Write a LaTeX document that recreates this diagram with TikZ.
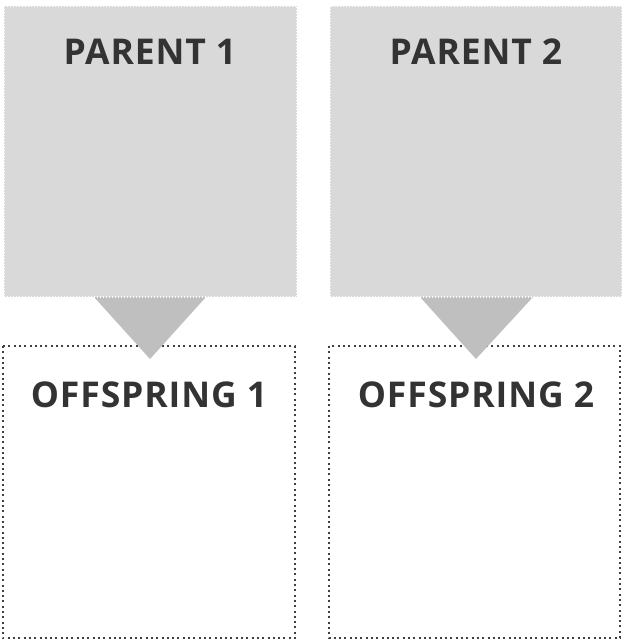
\documentclass[tikz,border=0pt]{standalone}
\usepackage{fontspec}
\setmainfont{Open Sans}
\begin{document}
\begin{tikzpicture}[x=1pt,y=-1pt,
  parentbox/.style={fill=pgray,draw=white,line width=1.2pt,dash pattern=on 1.2pt off 1.8pt},
  childbox/.style={fill=white,draw=dotc,line width=2pt,dash pattern=on 2pt off 3.3pt},
  arrowtri/.style={fill=tgray,draw=none},
  title/.style={text=txt,font=\bfseries\fontsize{35.5}{42}\selectfont,inner sep=0pt,anchor=base}]
\definecolor{pgray}{HTML}{D9D9D9}
\definecolor{tgray}{HTML}{BFBFBF}
\definecolor{dotc}{HTML}{404040}
\definecolor{txt}{HTML}{333333}
\useasboundingbox (0,0) rectangle (621,639);
% offspring boxes
\path[childbox] (3,346) rectangle (295,638);
\path[childbox] (329,346) rectangle (620,638);
% triangles
\path[arrowtri] (94,297) -- (206,297) -- (150,359) -- cycle;
\path[arrowtri] (420,297) -- (533,297) -- (476,359) -- cycle;
% parent boxes
\path[parentbox] (4,6) rectangle (297,297);
\path[parentbox] (330,6) rectangle (622,297);
% texts
\node[title] (p1) at (150,65) {\addfontfeature{LetterSpace=2.5}PARENT 1};
\node[title] (p2) at (476,65) {\addfontfeature{LetterSpace=2.5}PARENT 2};
\node[title] (o1) at (149,407) {\addfontfeature{LetterSpace=2.5}OFFSPRING 1};
\node[title] (o2) at (476,407) {\addfontfeature{LetterSpace=2.5}OFFSPRING 2};
\end{tikzpicture}
\end{document}
